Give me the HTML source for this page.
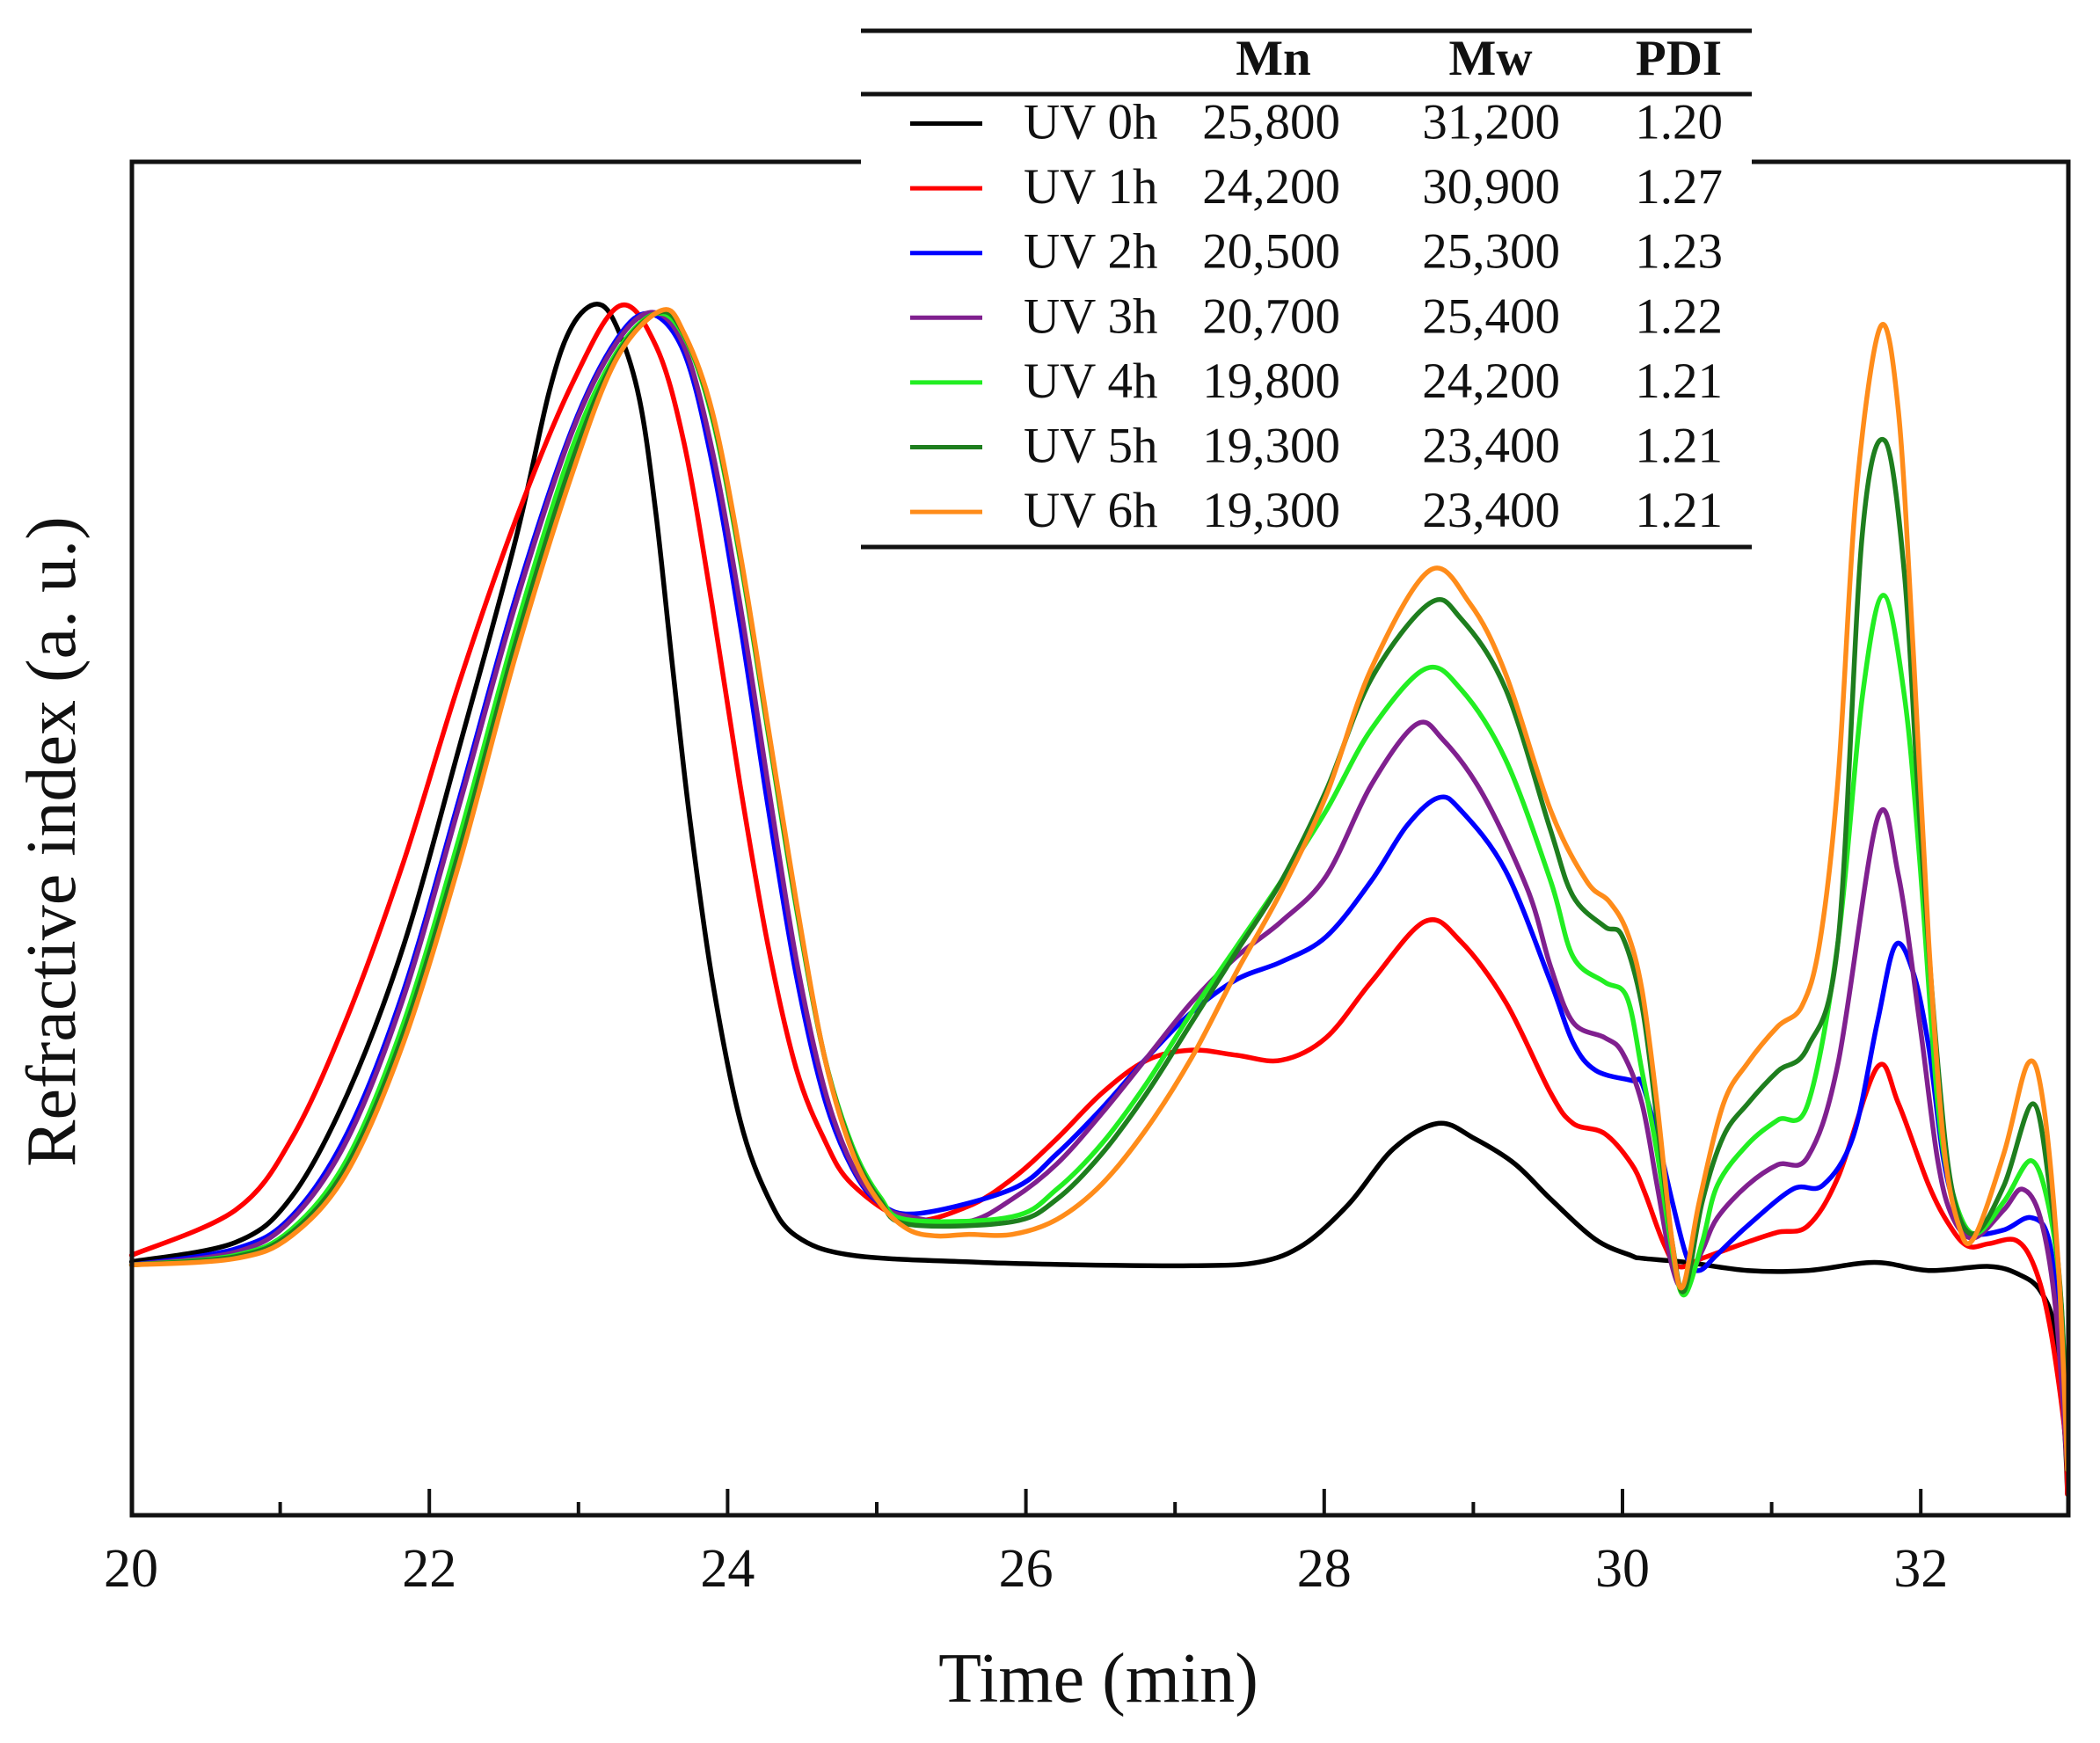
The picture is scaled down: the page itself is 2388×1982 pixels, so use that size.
<!DOCTYPE html>
<html><head><meta charset="utf-8"><style>
html,body{margin:0;padding:0;background:#fff}
svg{display:block}
text{font-family:"Liberation Serif","Times New Roman",serif;fill:#111}
</style></head><body>
<svg id="s" width="2388" height="1982" viewBox="0 0 2388 1982" xmlns="http://www.w3.org/2000/svg">
<g id="curves" fill="none" stroke-width="5.5" stroke-linejoin="round" stroke-linecap="round"></g>
<rect x="150" y="184" width="2202" height="1539" fill="none" stroke="#111" stroke-width="5"/>
<g id="ticks" stroke="#111" stroke-width="4"></g>
<g font-size="62" text-anchor="middle" id="tl"></g>
<text x="1249" y="1935" font-size="80" text-anchor="middle">Time (min)</text>
<text transform="translate(85,957) rotate(-90)" font-size="80" text-anchor="middle">Refractive index (a. u.)</text>
<rect x="979" y="35" width="1013" height="588" fill="#fff"/>
<line x1="979" y1="35" x2="1992" y2="35" stroke="#111" stroke-width="5"/>
<line x1="979" y1="107" x2="1992" y2="107" stroke="#111" stroke-width="5"/>
<line x1="979" y1="622" x2="1992" y2="622" stroke="#111" stroke-width="5"/>
<g font-size="57" font-weight="bold" text-anchor="middle">
<text x="1448" y="85">Mn</text><text x="1695" y="85">Mw</text><text x="1909" y="85">PDI</text>
</g>
<g id="rows" font-size="57"></g>
</svg>
<script>
var sv="http://www.w3.org/2000/svg";
function el(n,a,p,t){var e=document.createElementNS(sv,n);for(var k in a)e.setAttribute(k,a[k]);if(t)e.textContent=t;p.appendChild(e);return e;}
var X=function(t){return 149+(t-20)*169.6;};
var tk=document.getElementById('ticks'),tl=document.getElementById('tl');
for(var t=21;t<=32;t++){var x=X(t),L=(t%2==0)?30:15;el('line',{x1:x,y1:1723,x2:x,y2:1723-L},tk);}
for(var t=20;t<=32;t+=2){el('text',{x:X(t),y:1804},tl,String(t));}
var C={z3:function(p){return[140+p[0]/1.568,320+p[1]/1.3635]},
z4:function(p){return[1100+p[0]/1.96,600+p[1]/1.742]},
z5:function(p){return[1850+p[0]/2.914,330+p[1]/1.081]}};
function pts(segs){var o=[];segs.forEach(function(s){s[1].forEach(function(p){o.push(C[s[0]](p));});});return o;}
function cr(P){var d="M"+P[0][0].toFixed(1)+","+P[0][1].toFixed(1);
for(var i=0;i<P.length-1;i++){var p0=P[i-1]||P[i],p1=P[i],p2=P[i+1],p3=P[i+2]||p2;
var c1=[p1[0]+(p2[0]-p0[0])/6,p1[1]+(p2[1]-p0[1])/6],c2=[p2[0]-(p3[0]-p1[0])/6,p2[1]-(p3[1]-p1[1])/6];
d+="C"+c1[0].toFixed(1)+","+c1[1].toFixed(1)+" "+c2[0].toFixed(1)+","+c2[1].toFixed(1)+" "+p2[0].toFixed(1)+","+p2[1].toFixed(1);}
return d;}
var S=[
["#000",[["z3",[[15,1520],[200,1490],[300,1420],[400,1260],[500,1030],[600,720],[700,400],[760,170],[800,70],[845,35],[880,70],[920,180],[950,360],[980,600],[1010,830],[1050,1080],[1100,1300],[1150,1420],[1200,1480],[1300,1510]]],
["z4",[[20,1455],[230,1460],[500,1462],[650,1455],[750,1420],[850,1340],[950,1230],[1050,1180],[1130,1210],[1220,1260],[1300,1330],[1400,1410],[1480,1442]]],
["z5",[[50,1190],[200,1195],[400,1205],[600,1205],[820,1195],[1000,1205],[1200,1200],[1300,1210],[1370,1230],[1420,1280],[1450,1400],[1460,1480]]]]],
["#ff0000",[["z3",[[15,1510],[200,1440],[300,1330],[400,1140],[500,900],[600,620],[700,370],[800,160],[885,38],[950,100],[1000,250],[1050,500],[1100,780],[1150,1030],[1200,1220],[1250,1330],[1300,1400],[1400,1455]]],
["z4",[[0,1345],[100,1290],[200,1210],[300,1120],[400,1055],[500,1035],[600,1045],[700,1055],[800,1010],[900,900],[1020,780],[1100,820],[1200,940],[1300,1120],[1350,1180],[1420,1200],[1480,1260]]],
["z5",[[60,1110],[120,1170],[170,1200],[250,1190],[400,1170],[500,1158],[600,1150],[700,1090],[830,955],[900,1000],[1000,1100],[1070,1150],[1130,1175],[1200,1172],[1290,1168],[1350,1200],[1400,1270],[1450,1400],[1460,1480]]]]],
["#0000ff",[["z3",[[15,1525],[200,1500],[300,1450],[400,1320],[500,1100],[600,800],[700,490],[800,230],[880,90],[940,50],[1000,110],[1050,280],[1100,530],[1150,815],[1200,1075],[1250,1265],[1300,1375],[1350,1430],[1420,1445]]],
["z4",[[100,1310],[200,1240],[300,1150],[400,1050],[500,960],[600,895],[700,860],[800,810],[900,700],[980,590],[1050,535],[1100,560],[1200,680],[1300,900],[1350,1020],[1400,1075],[1480,1095]]],
["z5",[[50,975],[100,1040],[150,1120],[200,1190],[240,1205],[300,1185],[400,1150],[550,1105],[650,1100],[750,1040],[830,900],[890,805],[950,840],[1000,930],[1050,1070],[1100,1140],[1150,1160],[1250,1155],[1340,1140],[1400,1170],[1440,1300],[1460,1450]]]]],
["#80208f",[["z3",[[15,1525],[200,1505],[300,1455],[400,1330],[500,1110],[600,810],[700,500],[800,235],[880,95],[945,48],[1000,100],[1050,260],[1100,500],[1150,780],[1200,1050],[1250,1250],[1300,1370],[1350,1430],[1400,1450]]],
["z4",[[0,1375],[100,1330],[200,1260],[300,1160],[400,1050],[500,940],[600,850],[700,780],[800,690],[900,510],[1000,390],[1060,420],[1150,530],[1250,720],[1300,870],[1350,980],[1420,1010],[1460,1040]]],
["z5",[[50,1000],[100,1100],[150,1200],[190,1225],[250,1180],[300,1140],[400,1100],[500,1075],[600,1065],[700,950],[830,650],[900,720],[970,900],[1030,1070],[1080,1140],[1150,1165],[1250,1130],[1310,1105],[1370,1140],[1420,1250],[1460,1450]]]]],
["#22ee22",[["z3",[[15,1525],[200,1510],[300,1470],[400,1360],[500,1150],[600,860],[700,540],[800,260],[880,110],[950,50],[1000,85],[1050,210],[1100,430],[1150,700],[1200,970],[1250,1200],[1300,1340],[1350,1420],[1400,1455]]],
["z4",[[100,1365],[200,1310],[300,1220],[400,1100],[500,960],[600,830],[700,700],[800,560],[900,400],[1020,280],[1100,320],[1200,460],[1300,700],[1350,850],[1420,900],[1470,930]]],
["z5",[[50,960],[100,1060],[150,1180],[190,1235],[250,1170],[300,1100],[400,1050],[500,1020],[600,1000],[700,800],[780,500],[850,375],[920,500],[970,700],[1030,1000],[1080,1110],[1150,1160],[1250,1120],[1340,1070],[1400,1130],[1440,1250],[1460,1450]]]]],
["#1e7e1e",[["z3",[[15,1525],[200,1512],[300,1475],[400,1370],[500,1165],[600,880],[700,560],[800,280],[880,115],[955,48],[1000,82],[1050,205],[1100,425],[1150,695],[1200,965],[1250,1200],[1300,1345],[1350,1425],[1400,1462]]],
["z4",[[100,1375],[200,1330],[300,1240],[400,1120],[500,980],[600,840],[700,700],[800,520],[900,300],[1030,150],[1100,180],[1200,320],[1300,600],[1350,730],[1420,790],[1460,810]]],
["z5",[[50,880],[100,1020],[150,1170],[190,1230],[250,1120],[320,1040],[400,1000],[500,960],[600,930],[700,800],[780,300],[855,185],[920,350],[970,650],[1030,950],[1080,1110],[1150,1160],[1250,1100],[1345,1000],[1400,1100],[1440,1250],[1460,1450]]]]],
["#ff8c1a",[["z3",[[15,1525],[200,1515],[300,1480],[400,1380],[500,1180],[600,900],[700,580],[800,300],[880,120],[960,45],[1000,80],[1050,200],[1100,420],[1150,690],[1200,960],[1250,1200],[1300,1350],[1350,1430],[1400,1470],[1450,1480]]],
["z4",[[0,1400],[100,1400],[200,1370],[300,1300],[400,1190],[500,1050],[600,880],[700,720],[800,530],[900,280],[1030,85],[1120,150],[1200,290],[1300,560],[1380,700],[1430,740],[1470,800]]],
["z5",[[50,860],[100,1000],[150,1170],[185,1225],[240,1120],[320,1000],[400,950],[500,905],[580,880],[640,800],[700,600],[760,250],[840,45],[900,150],[950,450],[1000,800],[1050,1050],[1100,1150],[1150,1165],[1250,1060],[1330,950],[1380,1000],[1430,1200],[1460,1450]]]]]
];
var g=document.getElementById('curves');
S.forEach(function(s){el('path',{d:cr(pts(s[1])),stroke:s[0]},g);});
var R=[["UV 0h","25,800","31,200","1.20"],["UV 1h","24,200","30,900","1.27"],["UV 2h","20,500","25,300","1.23"],["UV 3h","20,700","25,400","1.22"],["UV 4h","19,800","24,200","1.21"],["UV 5h","19,300","23,400","1.21"],["UV 6h","19,300","23,400","1.21"]];
var rg=document.getElementById('rows');
R.forEach(function(r,i){var y=157.5+i*73.6;
el('line',{x1:1035,y1:y-17,x2:1117,y2:y-17,stroke:S[i][0],"stroke-width":5},rg);
el('text',{x:1164,y:y},rg,r[0]);
el('text',{x:1524,y:y,"text-anchor":"end"},rg,r[1]);
el('text',{x:1774,y:y,"text-anchor":"end"},rg,r[2]);
el('text',{x:1959,y:y,"text-anchor":"end"},rg,r[3]);});
</script>
</body></html>
